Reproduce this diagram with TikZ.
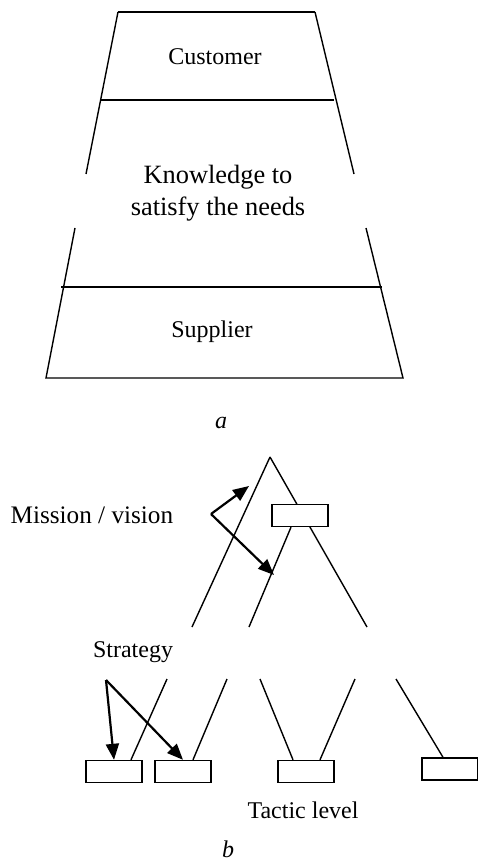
\documentclass[tikz,border=0pt]{standalone}
\usepackage{fontspec}
\setmainfont{Liberation Serif}
\usetikzlibrary{arrows.meta,positioning}

\begin{document}
\begin{tikzpicture}[x=0.5pt,y=-0.5pt,line width=0.7pt,
  every node/.style={font=\fontsize{12}{14}\selectfont},
  blk/.style={draw,fill=white,inner sep=0pt,minimum width=28pt,minimum height=11pt},
  arr/.style={-{Triangle[length=8pt,width=6.5pt]},line width=1.1pt}]
\useasboundingbox (0,0) rectangle (477,861);
% a
\draw (118,12) -- (315,12);
\draw (118,12) -- (86,174);
\draw (315,12) -- (354,174);
\draw (75,228) -- (46,378) -- (403,378) -- (366,228);
\draw (101,100) -- (334,100);
\draw (61,287) -- (382,287);
\node (cust) at (215,57) {Customer};
\node[align=center,font=\fontsize{13.2}{16}\selectfont] (know) at (218,193) {Knowledge to\\satisfy the needs};
\node (supp) at (212,332) {Supplier};
\node (capa) at (221,423) {\textit{a}};
% b
\coordinate (apex) at (270,457);
\coordinate (bl) at (192,627);
\coordinate (br) at (367,627);
\coordinate (bm) at (249,627);
\draw (apex) -- (bl);
\draw (apex) -- (br);
\node[blk] (mv) at (300,515.5) {};
\draw ([xshift=-4.5pt]mv.south) -- (bm);
\node[anchor=west,inner sep=0pt,font=\fontsize{12.6}{14}\selectfont] (miss) at (10,515) {Mission / vision};
\coordinate (mvx) at (211,514);
\coordinate (mva) at (249,486);
\coordinate (mvb) at (274,575);
\draw[arr] (mvx) -- (mva);
\draw[arr] (mvx) -- (mvb);
\node (strat) at (133,652) {Strategy};
\node[blk] (t1) at (114,771.5) {};
\node[blk] (t2) at (183,771.5) {};
\node[blk] (t3) at (306,771.5) {};
\node[blk] (t4) at (450,769) {};
\coordinate (s1) at (167,679);
\coordinate (s2) at (227,679);
\coordinate (s3) at (260,679);
\coordinate (s4) at (355,679);
\coordinate (s5) at (396,679);
\draw (s1) -- ([xshift=8.5pt]t1.north);
\draw (s2) -- ([xshift=5pt]t2.north);
\draw (s3) -- ([xshift=-6.5pt]t3.north);
\draw (s4) -- ([xshift=7pt]t3.north);
\draw (s5) -- ([xshift=-3.5pt]t4.north);
\coordinate (sx) at (106,680);
\draw[arr] (sx) -- (t1.north);
\draw[arr] (sx) -- (t2.north);
\node (tac) at (303,810) {Tactic level};
\node (capb) at (228,849) {\textit{b}};
\end{tikzpicture}
\end{document}
